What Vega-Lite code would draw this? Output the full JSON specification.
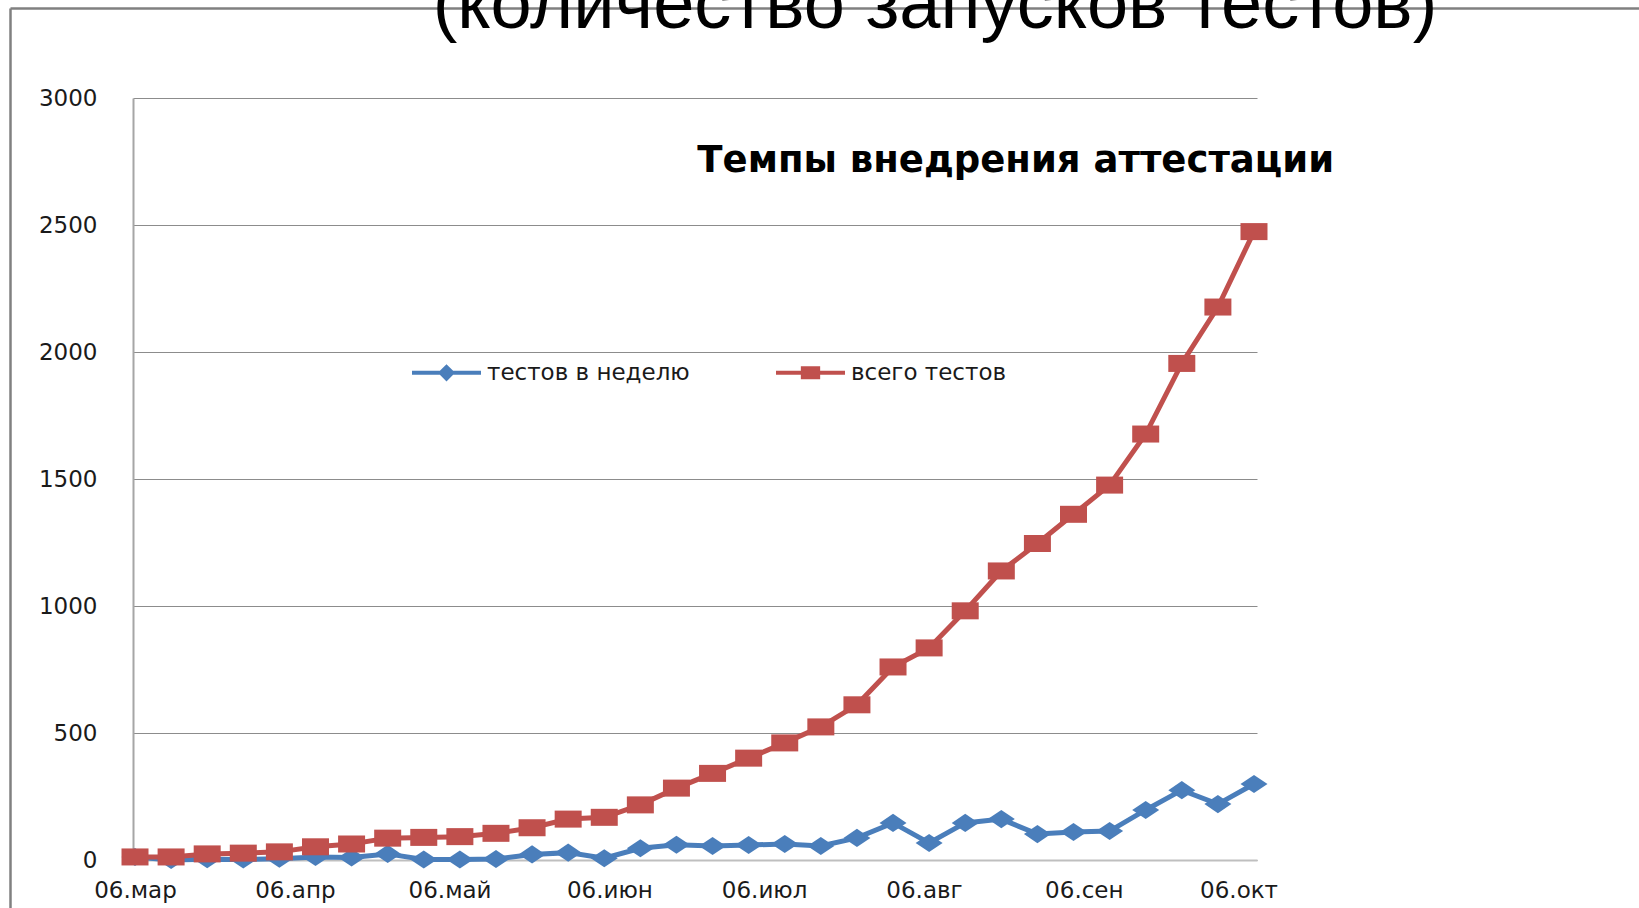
{
  "$schema": "https://vega.github.io/schema/vega-lite/v6.json",
  "width": 1124,
  "height": 762,
  "autosize": {"type": "none"},
  "padding": {"left": 133, "top": 98, "right": 382, "bottom": 48},
  "background": "white",
  "title": {
    "text": "(количество запусков тестов)",
    "font": "Liberation Sans",
    "fontSize": 74,
    "fontWeight": "normal",
    "color": "#000000",
    "anchor": "middle",
    "frame": "group",
    "baseline": "alphabetic",
    "offset": 0,
    "dx": 240,
    "dy": 94
  },
  "config": {"view": {"stroke": null}},
  "layer": [
    {
      "data": {
        "values": [
          {"date": "2009-03-06", "series": "тестов в неделю", "value": 12},
          {"date": "2009-03-13", "series": "тестов в неделю", "value": 0},
          {"date": "2009-03-20", "series": "тестов в неделю", "value": 3},
          {"date": "2009-03-27", "series": "тестов в неделю", "value": 2},
          {"date": "2009-04-03", "series": "тестов в неделю", "value": 5},
          {"date": "2009-04-10", "series": "тестов в неделю", "value": 12},
          {"date": "2009-04-17", "series": "тестов в неделю", "value": 10},
          {"date": "2009-04-24", "series": "тестов в неделю", "value": 24},
          {"date": "2009-05-01", "series": "тестов в неделю", "value": 2},
          {"date": "2009-05-08", "series": "тестов в неделю", "value": 2},
          {"date": "2009-05-15", "series": "тестов в неделю", "value": 4},
          {"date": "2009-05-22", "series": "тестов в неделю", "value": 22},
          {"date": "2009-05-29", "series": "тестов в неделю", "value": 29},
          {"date": "2009-06-05", "series": "тестов в неделю", "value": 7},
          {"date": "2009-06-12", "series": "тестов в неделю", "value": 46},
          {"date": "2009-06-19", "series": "тестов в неделю", "value": 60},
          {"date": "2009-06-26", "series": "тестов в неделю", "value": 55},
          {"date": "2009-07-03", "series": "тестов в неделю", "value": 59},
          {"date": "2009-07-10", "series": "тестов в неделю", "value": 63},
          {"date": "2009-07-17", "series": "тестов в неделю", "value": 55},
          {"date": "2009-07-24", "series": "тестов в неделю", "value": 87},
          {"date": "2009-07-31", "series": "тестов в неделю", "value": 146},
          {"date": "2009-08-07", "series": "тестов в неделю", "value": 67},
          {"date": "2009-08-14", "series": "тестов в неделю", "value": 146},
          {"date": "2009-08-21", "series": "тестов в неделю", "value": 161},
          {"date": "2009-08-28", "series": "тестов в неделю", "value": 102},
          {"date": "2009-09-04", "series": "тестов в неделю", "value": 110},
          {"date": "2009-09-11", "series": "тестов в неделю", "value": 114},
          {"date": "2009-09-18", "series": "тестов в неделю", "value": 197},
          {"date": "2009-09-25", "series": "тестов в неделю", "value": 275},
          {"date": "2009-10-02", "series": "тестов в неделю", "value": 220},
          {"date": "2009-10-09", "series": "тестов в неделю", "value": 299},
          {"date": "2009-03-06", "series": "всего тестов", "value": 12},
          {"date": "2009-03-13", "series": "всего тестов", "value": 12},
          {"date": "2009-03-20", "series": "всего тестов", "value": 24},
          {"date": "2009-03-27", "series": "всего тестов", "value": 27},
          {"date": "2009-04-03", "series": "всего тестов", "value": 32},
          {"date": "2009-04-10", "series": "всего тестов", "value": 52},
          {"date": "2009-04-17", "series": "всего тестов", "value": 63},
          {"date": "2009-04-24", "series": "всего тестов", "value": 86},
          {"date": "2009-05-01", "series": "всего тестов", "value": 89},
          {"date": "2009-05-08", "series": "всего тестов", "value": 92},
          {"date": "2009-05-15", "series": "всего тестов", "value": 105},
          {"date": "2009-05-22", "series": "всего тестов", "value": 127},
          {"date": "2009-05-29", "series": "всего тестов", "value": 161},
          {"date": "2009-06-05", "series": "всего тестов", "value": 168},
          {"date": "2009-06-12", "series": "всего тестов", "value": 217},
          {"date": "2009-06-19", "series": "всего тестов", "value": 283},
          {"date": "2009-06-26", "series": "всего тестов", "value": 341},
          {"date": "2009-07-03", "series": "всего тестов", "value": 401},
          {"date": "2009-07-10", "series": "всего тестов", "value": 461},
          {"date": "2009-07-17", "series": "всего тестов", "value": 524},
          {"date": "2009-07-24", "series": "всего тестов", "value": 611},
          {"date": "2009-07-31", "series": "всего тестов", "value": 760},
          {"date": "2009-08-07", "series": "всего тестов", "value": 835},
          {"date": "2009-08-14", "series": "всего тестов", "value": 981},
          {"date": "2009-08-21", "series": "всего тестов", "value": 1138},
          {"date": "2009-08-28", "series": "всего тестов", "value": 1246},
          {"date": "2009-09-04", "series": "всего тестов", "value": 1361},
          {"date": "2009-09-11", "series": "всего тестов", "value": 1476},
          {"date": "2009-09-18", "series": "всего тестов", "value": 1677},
          {"date": "2009-09-25", "series": "всего тестов", "value": 1955},
          {"date": "2009-10-02", "series": "всего тестов", "value": 2177},
          {"date": "2009-10-09", "series": "всего тестов", "value": 2474}
        ]
      },
      "layer": [
        {
          "mark": {"type": "line", "strokeWidth": 5},
          "encoding": {
            "x": {
              "field": "date",
              "type": "temporal",
              "scale": {
                "domain": [
                  {"year": 2009, "month": 3, "date": 5, "hours": 14, "minutes": 40},
                  {"year": 2009, "month": 10, "date": 9, "hours": 14}
                ]
              },
              "axis": {
                "values": [
                  {"year": 2009, "month": 3, "date": 6},
                  {"year": 2009, "month": 4, "date": 6},
                  {"year": 2009, "month": 5, "date": 6},
                  {"year": 2009, "month": 6, "date": 6},
                  {"year": 2009, "month": 7, "date": 6},
                  {"year": 2009, "month": 8, "date": 6},
                  {"year": 2009, "month": 9, "date": 6},
                  {"year": 2009, "month": 10, "date": 6}
                ],
                "labelExpr": "'06.' + ['янв','фев','мар','апр','май','июн','июл','авг','сен','окт','ноя','дек'][month(datum.value)]",
                "labelFont": "DejaVu Sans",
                "labelFontSize": 23,
                "labelColor": "#1a1a1a",
                "labelPadding": 19,
                "labelFlush": false,
                "labelOverlap": false,
                "ticks": false,
                "grid": false,
                "domain": true,
                "domainColor": "#bfbfbf",
                "domainWidth": 2,
                "title": null
              }
            },
            "y": {
              "field": "value",
              "type": "quantitative",
              "scale": {"domain": [0, 3000], "nice": false},
              "axis": {
                "values": [0, 500, 1000, 1500, 2000, 2500, 3000],
                "format": "d",
                "labelFont": "DejaVu Sans",
                "labelFontSize": 23,
                "labelColor": "#1a1a1a",
                "labelPadding": 36,
                "labelFlush": false,
                "ticks": false,
                "grid": true,
                "gridColor": "#8c8c8c",
                "gridWidth": 1,
                "domain": true,
                "domainColor": "#a6a6a6",
                "domainWidth": 2,
                "title": null
              }
            },
            "color": {
              "field": "series",
              "type": "nominal",
              "scale": {"domain": ["тестов в неделю", "всего тестов"], "range": ["#4A7EBB", "#C0504D"]},
              "legend": {
                "orient": "none",
                "legendX": 279,
                "legendY": 240,
                "direction": "horizontal",
                "title": null,
                "padding": 0,
                "labelFont": "DejaVu Sans",
                "labelFontSize": 23,
                "labelColor": "#1a1a1a",
                "labelOffset": 6,
                "labelLimit": 500,
                "columnPadding": 86,
                "symbolSize": 4761,
                "symbolStrokeWidth": 0,
                "encode": {
                  "symbols": {
                    "update": {
                      "shape": {"signal": "datum.value === 'тестов в неделю' ? 'M-1,-0.058H-0.192L0,-0.25L0.192,-0.058H1V0.058H0.192L0,0.25L-0.192,0.058H-1Z' : 'M-1,-0.058H-0.28V-0.19H0.28V-0.058H1V0.058H0.28V0.19H-0.28V0.058H-1Z'"},
                      "fill": {"scale": "color", "field": "value"},
                      "stroke": {"value": "transparent"},
                      "strokeWidth": {"value": 0},
                      "size": {"value": 4761},
                      "opacity": {"value": 1}
                    }
                  }
                }
              }
            }
          }
        },
        {
          "transform": [{"filter": "datum.series === 'тестов в неделю'"}],
          "mark": {"type": "point", "shape": "M0,-0.67L1,0L0,0.67L-1,0Z", "filled": true, "opacity": 1, "size": 729, "strokeWidth": 0, "color": "#4A7EBB"},
          "encoding": {
            "x": {"field": "date", "type": "temporal"},
            "y": {"field": "value", "type": "quantitative"}
          }
        },
        {
          "transform": [{"filter": "datum.series === 'всего тестов'"}],
          "mark": {"type": "point", "shape": "M-1,-0.63H1V0.63H-1Z", "filled": true, "opacity": 1, "size": 729, "strokeWidth": 0, "color": "#C0504D"},
          "encoding": {
            "x": {"field": "date", "type": "temporal"},
            "y": {"field": "value", "type": "quantitative"}
          }
        },
        {
          "data": {"values": [{"label": "Темпы внедрения аттестации"}]},
          "mark": {"type": "text", "font": "DejaVu Sans", "fontWeight": "bold", "fontSize": 37, "align": "center", "baseline": "alphabetic", "color": "#000000"},
          "encoding": {
            "text": {"field": "label"},
            "x": {"datum": {"year": 2009, "month": 8, "date": 23, "hours": 19}, "type": "temporal"},
            "y": {"datum": 2709, "type": "quantitative"}
          }
        }
      ]
    },
    {
      "data": {"values": [{"frame": "slide"}]},
      "mark": {"type": "point", "opacity": 0},
      "encoding": {
        "x": {
          "datum": 0,
          "type": "quantitative",
          "scale": {"domain": [0, 1], "range": [-123, 1506], "nice": false, "zero": false},
          "axis": {"orient": "top", "offset": 90, "labels": false, "ticks": false, "grid": false, "domain": true, "domainColor": "#808080", "domainWidth": 2.5, "title": null}
        },
        "y": {
          "datum": 0,
          "type": "quantitative",
          "scale": {"domain": [0, 1], "range": [810, -90], "nice": false, "zero": false},
          "axis": {"orient": "left", "offset": 123, "labels": false, "ticks": false, "grid": false, "domain": true, "domainColor": "#808080", "domainWidth": 2.5, "title": null}
        }
      }
    }
  ],
  "resolve": {"scale": {"x": "independent", "y": "independent"}}
}
